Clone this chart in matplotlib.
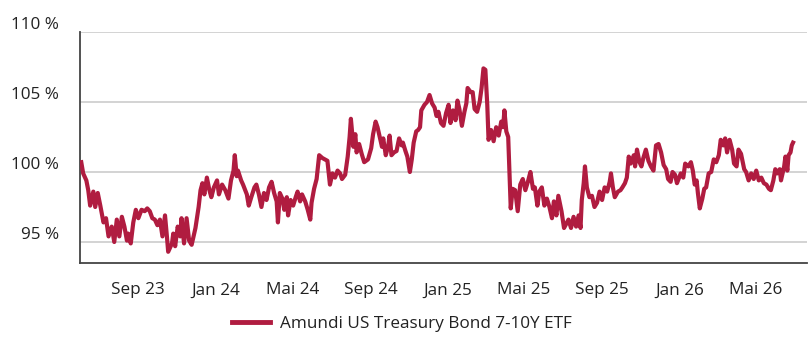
import matplotlib
matplotlib.use("Agg")
import matplotlib.pyplot as plt
import matplotlib.dates as mdates
import matplotlib.transforms as mtransforms
import pandas as pd

# performance of the fund, indexed to 100 % at the start
dates = [
    "2023-06-03", "2023-06-06", "2023-06-11", "2023-06-14", "2023-06-17", "2023-06-22", "2023-06-25", "2023-06-29",
    "2023-07-03", "2023-07-08", "2023-07-12", "2023-07-16", "2023-07-21", "2023-07-25", "2023-07-29", "2023-08-02",
    "2023-08-06", "2023-08-10", "2023-08-14", "2023-08-16", "2023-08-20", "2023-08-24", "2023-08-28", "2023-09-01",
    "2023-09-06", "2023-09-11", "2023-09-15", "2023-09-19", "2023-09-23", "2023-09-27", "2023-10-01", "2023-10-05",
    "2023-10-09", "2023-10-13", "2023-10-16", "2023-10-18", "2023-10-24", "2023-10-26", "2023-10-29", "2023-11-02",
    "2023-11-06", "2023-11-08", "2023-11-12", "2023-11-16", "2023-11-20", "2023-11-24", "2023-11-27", "2023-11-30",
    "2023-12-05", "2023-12-08", "2023-12-11", "2023-12-14", "2023-12-18", "2023-12-22", "2023-12-25", "2023-12-29",
    "2024-01-03", "2024-01-06", "2024-01-11", "2024-01-16", "2024-01-21", "2024-01-25", "2024-01-29", "2024-01-31",
    "2024-02-03", "2024-02-05", "2024-02-10", "2024-02-13", "2024-02-19", "2024-02-22", "2024-02-26", "2024-03-02",
    "2024-03-05", "2024-03-09", "2024-03-13", "2024-03-17", "2024-03-21", "2024-03-25", "2024-03-29", "2024-04-02",
    "2024-04-06", "2024-04-08", "2024-04-11", "2024-04-15", "2024-04-18", "2024-04-22", "2024-04-24", "2024-04-28",
    "2024-05-02", "2024-05-06", "2024-05-09", "2024-05-13", "2024-05-16", "2024-05-21", "2024-05-25", "2024-05-29",
    "2024-05-31", "2024-06-04", "2024-06-08", "2024-06-12", "2024-06-17", "2024-06-21", "2024-06-25", "2024-06-29",
    "2024-07-03", "2024-07-07", "2024-07-11", "2024-07-15", "2024-07-18", "2024-07-23", "2024-07-27", "2024-07-30",
    "2024-08-01", "2024-08-05", "2024-08-08", "2024-08-10", "2024-08-14", "2024-08-18", "2024-08-22", "2024-08-28",
    "2024-09-02", "2024-09-05", "2024-09-09", "2024-09-12", "2024-09-16", "2024-09-19", "2024-09-21", "2024-09-25",
    "2024-09-29", "2024-10-01", "2024-10-04", "2024-10-08", "2024-10-12", "2024-10-16", "2024-10-20", "2024-10-22",
    "2024-10-26", "2024-10-29", "2024-11-02", "2024-11-05", "2024-11-08", "2024-11-12", "2024-11-15", "2024-11-18",
    "2024-11-20", "2024-11-25", "2024-11-29", "2024-12-03", "2024-12-07", "2024-12-11", "2024-12-14", "2024-12-17",
    "2024-12-21", "2024-12-25", "2024-12-29", "2025-01-02", "2025-01-05", "2025-01-09", "2025-01-13", "2025-01-16",
    "2025-01-19", "2025-01-23", "2025-01-27", "2025-01-30", "2025-02-01", "2025-02-06", "2025-02-09", "2025-02-12",
    "2025-02-16", "2025-02-20", "2025-02-23", "2025-02-26", "2025-03-01", "2025-03-04", "2025-03-06", "2025-03-10",
    "2025-03-14", "2025-03-18", "2025-03-22", "2025-03-26", "2025-03-29", "2025-03-31", "2025-04-03", "2025-04-06",
    "2025-04-10", "2025-04-13", "2025-04-17", "2025-04-21", "2025-04-25", "2025-04-29", "2025-05-03", "2025-05-07",
    "2025-05-11", "2025-05-15", "2025-05-18", "2025-05-22", "2025-05-25", "2025-05-29", "2025-06-02", "2025-06-06",
    "2025-06-10", "2025-06-14", "2025-06-17", "2025-06-21", "2025-06-24", "2025-06-29", "2025-07-03", "2025-07-10",
    "2025-07-14", "2025-07-18", "2025-07-22", "2025-07-26", "2025-07-29", "2025-07-31", "2025-08-03", "2025-08-05",
    "2025-08-08", "2025-08-12", "2025-08-16", "2025-08-20", "2025-08-24", "2025-08-28", "2025-09-01", "2025-09-05",
    "2025-09-09", "2025-09-13", "2025-09-15", "2025-09-18", "2025-09-21", "2025-09-26", "2025-09-30", "2025-10-03",
    "2025-10-07", "2025-10-10", "2025-10-13", "2025-10-16", "2025-10-21", "2025-10-23", "2025-10-26", "2025-10-30",
    "2025-11-02", "2025-11-05", "2025-11-09", "2025-11-13", "2025-11-17", "2025-11-21", "2025-11-25", "2025-11-29",
    "2025-12-03", "2025-12-07", "2025-12-11", "2025-12-14", "2025-12-18", "2025-12-21", "2025-12-25", "2025-12-28",
    "2026-01-03", "2026-01-07", "2026-01-10", "2026-01-15", "2026-01-19", "2026-01-22", "2026-01-25", "2026-01-28",
    "2026-01-30", "2026-02-02", "2026-02-06", "2026-02-09", "2026-02-12", "2026-02-16", "2026-02-20", "2026-02-24",
    "2026-02-28", "2026-03-04", "2026-03-07", "2026-03-11", "2026-03-14", "2026-03-17", "2026-03-21", "2026-03-25",
    "2026-03-28", "2026-04-01", "2026-04-04", "2026-04-08", "2026-04-13", "2026-04-16", "2026-04-20", "2026-04-24",
    "2026-04-28", "2026-05-02", "2026-05-06", "2026-05-10", "2026-05-14", "2026-05-18", "2026-05-22", "2026-05-25",
    "2026-05-29", "2026-06-01", "2026-06-04", "2026-06-08", "2026-06-10", "2026-06-15", "2026-06-17", "2026-06-20",
    "2026-06-22", "2026-06-25", "2026-06-27", "2026-06-29",
]

performance = [
    100.7, 99.9, 99.4, 98.7, 97.6, 98.6, 97.5, 98.5,
    97.6, 96.4, 96.7, 95.4, 96.1, 95.0, 96.6, 95.4,
    96.8, 96.1, 95.1, 95.6, 94.9, 96.4, 97.3, 96.7,
    97.3, 97.2, 97.4, 97.2, 96.7, 96.6, 96.2, 96.6,
    95.4, 96.9, 95.4, 94.3, 94.9, 95.6, 94.7, 96.1,
    95.4, 96.7, 94.9, 96.7, 95.1, 94.8, 95.4, 96.0,
    97.5, 98.7, 99.2, 98.4, 99.6, 98.7, 98.2, 98.9,
    99.4, 98.4, 99.1, 98.7, 98.1, 99.4, 100.1, 101.2,
    99.7, 100.1, 99.4, 99.1, 98.4, 97.6, 98.2, 98.9,
    99.1, 98.4, 97.5, 98.5, 98.0, 98.9, 99.3, 98.5,
    97.9, 96.4, 98.5, 98.1, 97.3, 98.2, 96.9, 98.0,
    97.6, 98.2, 98.6, 97.9, 98.4, 97.9, 97.3, 96.6,
    97.8, 98.8, 99.5, 101.2, 101.0, 100.9, 100.8, 99.1,
    99.9, 99.6, 100.1, 99.9, 99.5, 99.8, 101.1, 102.5,
    103.8, 101.8, 102.7, 101.4, 102.0, 101.3, 100.7, 100.9,
    101.7, 102.7, 103.6, 103.2, 102.4, 101.8, 102.4, 101.2,
    101.9, 102.6, 101.2, 101.4, 101.5, 102.4, 101.9, 102.1,
    101.5, 101.1, 100.0, 100.9, 102.1, 102.9, 103.0, 103.2,
    104.4, 104.8, 105.0, 105.5, 104.9, 104.6, 104.0, 104.3,
    103.5, 103.3, 104.2, 104.8, 103.5, 104.4, 103.7, 105.1,
    104.5, 103.3, 104.3, 104.9, 106.0, 105.7, 105.7, 104.5,
    104.3, 105.0, 106.0, 107.4, 107.3, 104.8, 102.3, 103.0,
    102.2, 103.2, 102.6, 103.6, 103.2, 104.4, 102.9, 102.5,
    97.4, 98.8, 98.7, 97.2, 99.1, 99.5, 98.7, 99.3,
    100.0, 98.8, 98.9, 97.6, 98.6, 98.9, 97.6, 98.1,
    97.5, 96.7, 97.9, 96.9, 98.3, 97.2, 96.0, 96.6,
    96.0, 96.8, 96.1, 96.9, 96.0, 98.0, 99.2, 100.4,
    98.9, 98.2, 98.3, 97.5, 97.8, 98.6, 98.0, 98.9,
    98.6, 99.3, 99.9, 98.9, 98.2, 98.6, 98.7, 98.9,
    99.2, 99.6, 101.1, 100.6, 101.2, 100.4, 101.6, 100.7,
    100.4, 101.0, 101.6, 100.8, 100.4, 100.1, 101.9, 102.0,
    101.4, 100.5, 100.2, 99.5, 99.3, 100.0, 99.8, 99.2,
    99.9, 99.6, 100.6, 100.4, 100.7, 100.1, 99.1, 99.4,
    98.5, 97.4, 98.1, 98.8, 98.9, 99.9, 100.0, 100.9,
    100.7, 101.2, 102.3, 101.9, 102.4, 101.4, 102.3, 101.6,
    100.6, 100.4, 101.6, 101.3, 100.2, 100.0, 99.4, 99.9,
    99.5, 100.1, 99.4, 99.6, 99.2, 99.1, 98.8, 98.7,
    99.4, 100.2, 99.9, 100.2, 99.4, 100.4, 101.1, 100.1,
    101.2, 101.4, 101.9, 102.1,
]

fund_name = "Amundi US Treasury Bond 7-10Y ETF"
month_names = {1: "Jan", 5: "Mai", 9: "Sep"}
y_ticks = [95, 100, 105, 110]

LINE_COLOR = "#b01c40"
TEXT_COLOR = "#222222"
FONT_SIZE = 12.3

plt.rcParams["font.family"] = ["Open Sans", "DejaVu Sans"]

x = pd.to_datetime(dates)

fig = plt.figure(figsize=(8.1, 3.47), dpi=100)
ax = fig.add_axes([80 / 810, 84 / 347, 727 / 810, 231 / 347])

ax.plot(x, performance, color=LINE_COLOR, linewidth=3.0, solid_joinstyle="round",
        label=fund_name, zorder=3)

ax.set_xlim(pd.Timestamp("2023-06-01"), pd.Timestamp("2026-07-21"))
ax.set_ylim(93.5, 110)

# every four months, German month abbreviations
ax.xaxis.set_major_locator(mdates.MonthLocator(bymonth=[1, 5, 9]))
ax.xaxis.set_major_formatter(
    plt.FuncFormatter(lambda v, pos: "%s %s" % (month_names[mdates.num2date(v).month],
                                                mdates.num2date(v).strftime("%y"))))

ax.set_yticks(y_ticks)
ax.set_yticklabels(["%d %%" % t for t in y_ticks])

ax.grid(axis="y", color="#d0d0d0", linewidth=1.3)
ax.set_axisbelow(True)

for side in ("top", "right"):
    ax.spines[side].set_visible(False)
ax.spines["left"].set_color("#444444")
ax.spines["left"].set_linewidth(1.3)
ax.spines["bottom"].set_color("#444444")
ax.spines["bottom"].set_linewidth(1.3)

ax.tick_params(axis="x", length=0, pad=14, labelsize=FONT_SIZE, labelcolor=TEXT_COLOR)
ax.tick_params(axis="y", length=0, pad=15, labelsize=FONT_SIZE, labelcolor=TEXT_COLOR)

# y labels sit just above their grid line
shift = mtransforms.ScaledTranslation(0, 9 / 100, fig.dpi_scale_trans)
for lbl in ax.get_yticklabels():
    lbl.set_transform(lbl.get_transform() + shift)

fig.legend(loc="lower center", bbox_to_anchor=(0.496, 0.0), frameon=False,
           fontsize=FONT_SIZE, handlelength=2.2, handletextpad=0.6,
           labelcolor=TEXT_COLOR)
for h in fig.legends[0].legend_handles:
    h.set_linewidth(3.5)

fig.savefig("out.png", dpi=100)
